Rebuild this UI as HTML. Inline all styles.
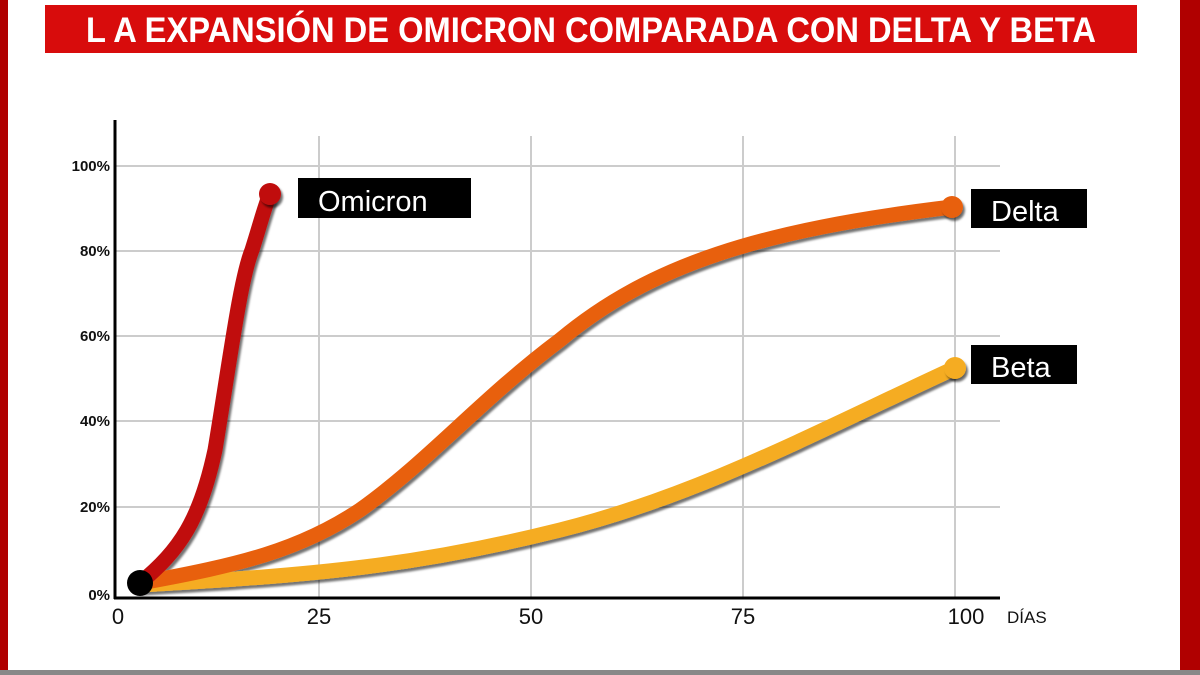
<!DOCTYPE html>
<html><head><meta charset="utf-8"><style>
html,body{margin:0;padding:0;background:#fff}
body{width:1200px;height:675px;position:relative;overflow:hidden;font-family:"Liberation Sans",sans-serif}
</style></head><body>
<svg width="1200" height="675" viewBox="0 0 1200 675" style="position:absolute;left:0;top:0">
<defs><filter id="sh" x="-10%" y="-10%" width="120%" height="120%"><feDropShadow dx="2" dy="3" stdDeviation="1" flood-color="#000" flood-opacity="0.55"/></filter></defs>
<rect x="0" y="0" width="8" height="675" fill="#b00000"/>
<rect x="1180" y="0" width="20" height="675" fill="#b00000"/>
<rect x="0" y="670" width="1200" height="5" fill="#888"/>
<rect x="45" y="5" width="1092" height="48" fill="#d80c0c"/>
<text x="591" y="42" text-anchor="middle" fill="#fff" font-size="35" font-weight="bold" font-family="Liberation Sans Narrow, Liberation Sans, sans-serif" textLength="1010" lengthAdjust="spacingAndGlyphs">L A EXPANSIÓN DE OMICRON COMPARADA CON DELTA Y BETA</text>
<g stroke="#ccc" stroke-width="2">
<line x1="115" y1="166" x2="1000" y2="166"/><line x1="115" y1="251" x2="1000" y2="251"/>
<line x1="115" y1="336" x2="1000" y2="336"/><line x1="115" y1="421" x2="1000" y2="421"/>
<line x1="115" y1="507" x2="1000" y2="507"/>
<line x1="319" y1="136" x2="319" y2="597"/><line x1="531" y1="136" x2="531" y2="597"/>
<line x1="743" y1="136" x2="743" y2="597"/><line x1="955" y1="136" x2="955" y2="597"/>
</g>
<line x1="115" y1="120" x2="115" y2="599" stroke="#000" stroke-width="3"/>
<line x1="114" y1="598" x2="1000" y2="598" stroke="#000" stroke-width="3"/>
<g font-size="15" font-weight="bold" text-anchor="end" fill="#111">
<text x="110" y="171">100%</text><text x="110" y="256">80%</text><text x="110" y="341">60%</text>
<text x="110" y="426">40%</text><text x="110" y="512">20%</text><text x="110" y="600">0%</text>
</g>
<g font-size="22" text-anchor="middle" fill="#111">
<text x="118" y="624">0</text><text x="319" y="624">25</text><text x="531" y="624">50</text><text x="743" y="624">75</text><text x="966" y="624">100</text>
</g>
<text x="1007" y="623" font-size="17" fill="#111">DÍAS</text>
<g fill="none" stroke-width="15" stroke-linecap="round" filter="url(#sh)">
<path d="M140,585 C320,575 420,565 560,530 C700,495 820,430 955,368" stroke="#f5ac20"/>
<path d="M140,583 C240,565 300,550 360,510 C430,460 480,400 560,340 C650,265 760,230 952,207" stroke="#e8600e"/>
<path d="M140,583 C180,550 200,520 215,450 C230,360 240,280 252,250 C260,225 265,205 270,194" stroke="#c0100e"/>
</g>
<g filter="url(#sh)">
<circle cx="270" cy="194" r="11" fill="#c0100e"/>
<circle cx="952" cy="207" r="11" fill="#e8600e"/>
<circle cx="955" cy="368" r="11" fill="#f5ac20"/>
</g>
<circle cx="140" cy="583" r="13" fill="#000"/>
<rect x="298" y="178" width="173" height="40" fill="#000"/>
<text x="318" y="211" font-size="29" fill="#fff">Omicron</text>
<rect x="971" y="189" width="116" height="39" fill="#000"/>
<text x="991" y="221" font-size="29" fill="#fff">Delta</text>
<rect x="971" y="345" width="106" height="39" fill="#000"/>
<text x="991" y="377" font-size="29" fill="#fff">Beta</text>
</svg>
</body></html>
